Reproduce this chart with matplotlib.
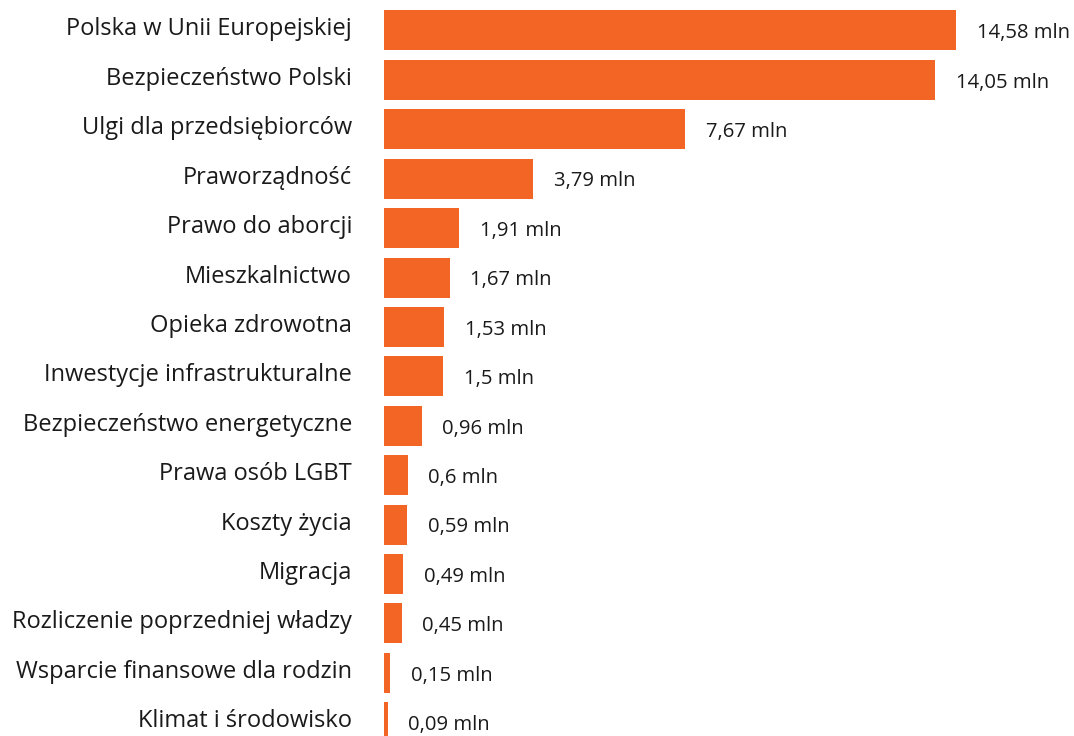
import matplotlib.pyplot as plt
from matplotlib.transforms import ScaledTranslation

categories = [
    "Polska w Unii Europejskiej",
    "Bezpieczeństwo Polski",
    "Ulgi dla przedsiębiorców",
    "Praworządność",
    "Prawo do aborcji",
    "Mieszkalnictwo",
    "Opieka zdrowotna",
    "Inwestycje infrastrukturalne",
    "Bezpieczeństwo energetyczne",
    "Prawa osób LGBT",
    "Koszty życia",
    "Migracja",
    "Rozliczenie poprzedniej władzy",
    "Wsparcie finansowe dla rodzin",
    "Klimat i środowisko",
]
values = [14.58, 14.05, 7.67, 3.79, 1.91, 1.67, 1.53, 1.5, 0.96, 0.6, 0.59, 0.49, 0.45, 0.15, 0.09]

plt.rcParams['font.family'] = ['Open Sans', 'DejaVu Sans']

fig = plt.figure(figsize=(10.74, 7.36), dpi=100)
ax = fig.add_axes([384 / 1074, 0, 690 / 1074, 1])

pos = list(range(len(categories)))
ax.barh(pos, values, height=0.81, color="#F26524")

for y, v in zip(pos, values):
    label = f"{v:g}".replace(".", ",") + " mln"
    ax.annotate(label, xy=(v, y), xytext=(15, -2), textcoords="offset points",
                ha="left", va="center", fontsize=14.6, color="#1a1a1a")

ax.set_xlim(0, 690 / 39.23)
ax.set_ylim(14.28, -0.617)
ax.set_yticks(pos)
ax.set_yticklabels(categories, fontsize=17, color="#1a1a1a")
ax.tick_params(axis="y", length=0, pad=23)
# category labels sit a little above the bar middles
shift = ScaledTranslation(0, 4 / 100, fig.dpi_scale_trans)
for lbl in ax.get_yticklabels():
    lbl.set_transform(lbl.get_transform() + shift)
ax.set_xticks([])
for s in ax.spines.values():
    s.set_visible(False)

fig.savefig("out.png", dpi=100)
